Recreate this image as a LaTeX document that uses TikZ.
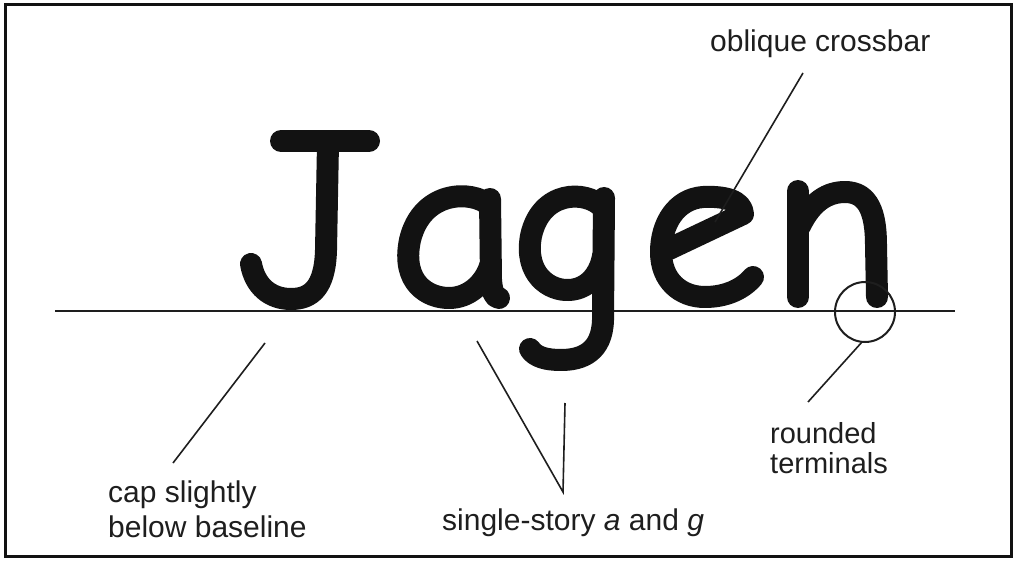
\documentclass[tikz,border=0pt]{standalone}
\usepackage{fontspec}
\setmainfont{Liberation Sans}
\definecolor{ink}{HTML}{121212}
\definecolor{thin}{HTML}{1E1E1E}
\begin{document}
\begin{tikzpicture}[x=1pt,y=-1pt,
  letter/.style={draw=ink,line width=22pt,line cap=round,line join=round},
  leader/.style={draw=thin,line width=1.6pt},
  lbl/.style={inner sep=0pt,font=\fontsize{30}{35}\selectfont,text=thin}]
\useasboundingbox (0,0) rectangle (1016,561);
\fill[white] (0,0) rectangle (1016,561);
\draw[line width=3pt,draw=ink] (5,5) rectangle (1011,556);
% baseline
\coordinate (bl1) at (55,311);
\coordinate (bl2) at (955,311);
\draw[line width=2pt,draw=thin] (bl1) -- (bl2);
% J
\draw[letter] (281,141) -- (369,141);
\draw[letter] (328,143) -- (326,250) .. controls (325,288) and (311,299) .. (291,299)
  .. controls (270,299) and (255,286) .. (251,264);
% a
\draw[letter] (489,205) .. controls (472,190) and (422,190) .. (410,240)
  .. controls (401,283) and (428,298) .. (449,298) .. controls (470,298) and (485,282) .. (490,266);
\draw[letter] (490,199) -- (491,280) .. controls (492,292) and (494,297) .. (499,298);
% g
\draw[letter] (602,207) .. controls (586,190) and (541,190) .. (531,236)
  .. controls (524,274) and (549,291) .. (569,290) .. controls (589,289) and (600,273) .. (603,256);
\draw[letter] (604,198) -- (603,320) .. controls (602,352) and (582,360) .. (561,360)
  .. controls (546,360) and (535,357) .. (530,349);
% e
\draw[letter] (667,250) -- (743,214) .. controls (742,200) and (724,196) .. (703,197)
  .. controls (676,199) and (661,224) .. (661,252) .. controls (661,280) and (680,297) .. (705,297)
  .. controls (726,297) and (743,289) .. (753,277);
% n
\draw[letter] (798,191) -- (798,297);
\draw[letter] (800,226) .. controls (812,201) and (828,192) .. (845,192)
  .. controls (869,192) and (876,214) .. (876,245) -- (877,297);
% circle
\node[draw=thin,line width=2pt,circle,minimum size=60pt,inner sep=0pt] (ring) at (865,312) {};
% labels
\node[lbl,anchor=base west] (oc) at (710,52) {oblique crossbar};
\node[lbl,anchor=base west] (cap) at (108,502) {\begin{tabular}[t]{@{}l@{}}cap slightly\\below baseline\end{tabular}};
\node[lbl,anchor=base west] (ss) at (442,530) {single-story \textit{a} and \textit{g}};
\node[lbl,anchor=base west,font=\fontsize{29}{30}\selectfont] (rt) at (770,443) {\begin{tabular}[t]{@{}l@{}}rounded\\terminals\end{tabular}};
% leader ends
\coordinate (oc1) at (803,73);
\coordinate (oc2) at (715,222);
\coordinate (cp1) at (265,343);
\coordinate (cp2) at (173,463);
\coordinate (sa) at (477,341);
\coordinate (sg) at (565,403);
\coordinate (sv) at (563,492);
\coordinate (rt1) at (862,342);
\coordinate (rt2) at (808,402);
\draw[leader] (oc1) -- (oc2);
\draw[leader] (cp1) -- (cp2);
\draw[leader,line join=miter] (sa) -- (sv) -- (sg);
\draw[leader] (rt1) -- (rt2);
\end{tikzpicture}
\end{document}
